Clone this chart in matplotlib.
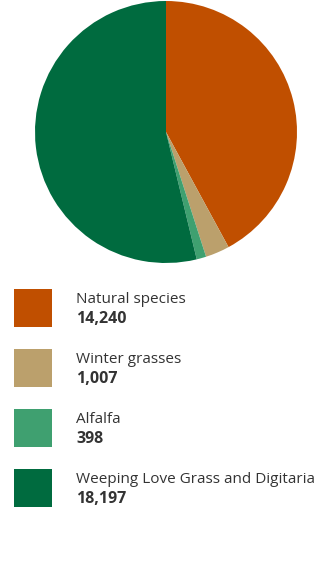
import matplotlib.pyplot as plt

labels = ['Natural species', 'Winter grasses', 'Alfalfa', 'Weeping Love Grass and Digitaria']
values = [14240, 1007, 398, 18197]
colors = ['#C04F00', '#BBA06C', '#3FA070', '#006B3F']

W, H = 330, 569
fig = plt.figure(figsize=(W / 100, H / 100), dpi=100)

# pie, centre (166, 132) px, radius 131 px
cx, cy, r = 166, 132, 131
ax = fig.add_axes([(cx - r) / W, 1 - (cy + r) / H, 2 * r / W, 2 * r / H])
ax.pie(values, colors=colors, startangle=90, counterclock=False,
       wedgeprops=dict(linewidth=0))
ax.set_xlim(-1, 1)
ax.set_ylim(-1, 1)
ax.set_aspect('equal')

# legend drawn in pixel coords
lg = fig.add_axes([0, 0, 1, 1])
lg.set_xlim(0, W)
lg.set_ylim(H, 0)
lg.axis('off')
for i, (lab, val, c) in enumerate(zip(labels, values, colors)):
    y0 = 289 + 60 * i
    lg.add_patch(plt.Rectangle((14, y0), 38, 38, color=c, lw=0))
    lg.text(76, y0 + 13.5, lab, fontsize=11, family='Open Sans', color='#333333',
            va='baseline')
    lg.text(76, y0 + 33.5, f'{val:,}', fontsize=11.5, family='Open Sans',
            fontweight='bold', color='#333333', va='baseline')

fig.savefig('out.png', dpi=100)
